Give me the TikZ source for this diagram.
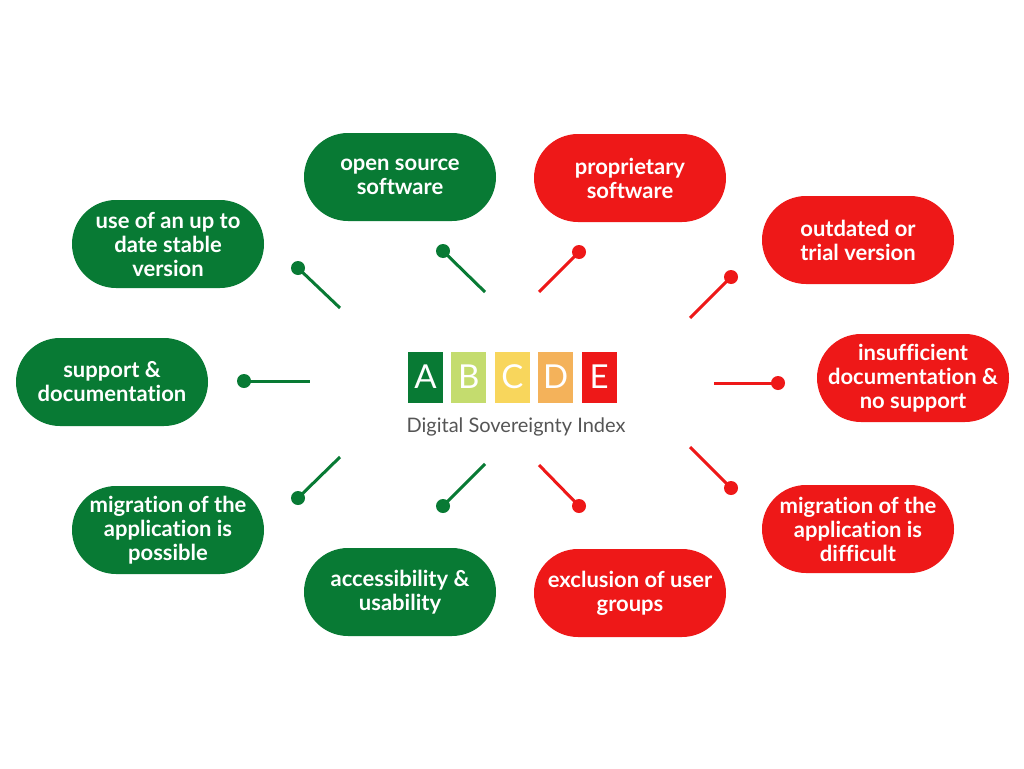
\documentclass[tikz,border=0pt]{standalone}
\usepackage{fontspec}
\setmainfont[Ligatures={NoCommon}]{Lato}
\usepackage{tikz}
\usetikzlibrary{positioning}
\definecolor{sovgreen}{RGB}{8,122,52}
\definecolor{sovred}{RGB}{238,24,24}
\definecolor{sovlime}{RGB}{196,220,110}
\definecolor{sovyellow}{RGB}{248,214,92}
\definecolor{sovorange}{RGB}{244,178,90}
\definecolor{sovgray}{RGB}{85,85,85}
\tikzstyle{pill} = [rectangle, rounded corners=44pt, minimum width=192pt,
    minimum height=88pt, text=white, align=center,
    font=\fontsize{22}{24}\selectfont\bfseries, inner sep=0pt]
\tikzstyle{goodpill} = [pill, fill=sovgreen]
\tikzstyle{badpill} = [pill, fill=sovred]
\tikzstyle{scorebox} = [rectangle, minimum width=35pt, minimum height=51pt,
    text=white, font=\fontsize{33}{33}\selectfont, inner sep=0pt]
\tikzstyle{gooddot} = [circle, fill=sovgreen, minimum size=14pt, inner sep=0pt]
\tikzstyle{baddot} = [circle, fill=sovred, minimum size=14pt, inner sep=0pt]
\tikzstyle{goodline} = [draw=sovgreen, line width=3pt]
\tikzstyle{badline} = [draw=sovred, line width=3pt]

\begin{document}
\begin{tikzpicture}[x=1pt,y=-1pt]
\useasboundingbox[fill=white] (0,0) rectangle (1024,768);

% logo
\node[scorebox, fill=sovgreen] (A) at (425.5,377) {A};
\node[scorebox, fill=sovlime, right=8pt of A] (B) {B};
\node[scorebox, fill=sovyellow, right=8pt of B] (C) {C};
\node[scorebox, fill=sovorange, right=8pt of C] (D) {D};
\node[scorebox, fill=sovred, right=8pt of D] (E) {E};
\node[text=sovgray, font=\fontsize{20}{20}\selectfont] (title) at (516,427) {Digital Sovereignty Index};

% green side
\node[goodpill] (open) at (400,177) {open source\\software};
\node[goodpill] (uptodate) at (168,244) {use of an up to\\date stable\\version};
\node[goodpill] (support) at (112,382) {support \&\\documentation};
\node[goodpill] (migpos) at (168,530) {migration of the\\application is\\possible};
\node[goodpill] (access) at (400,592) {accessibility \&\\usability};

% red side
\node[badpill] (prop) at (630,178) {proprietary\\software};
\node[badpill] (outdated) at (858,240) {outdated or\\trial version};
\node[badpill] (insuff) at (913,378) {insufficient\\documentation \&\\no support};
\node[badpill] (migdiff) at (858,529) {migration of the\\application is\\difficult};
\node[badpill] (exclusion) at (630,593) {exclusion of user\\groups};

% connectors
\node[gooddot] (d1) at (298,268) {};
\coordinate (e1) at (340,308);
\node[gooddot] (d2) at (443,251) {};
\coordinate (e2) at (485,292);
\node[gooddot] (d3) at (244,381) {};
\coordinate (e3) at (310,381);
\node[gooddot] (d4) at (298,498) {};
\coordinate (e4) at (340,457);
\node[gooddot] (d5) at (443,506) {};
\coordinate (e5) at (485,464);
\node[baddot] (d6) at (579,252) {};
\coordinate (e6) at (539,292);
\node[baddot] (d7) at (731,277) {};
\coordinate (e7) at (690,318);
\node[baddot] (d8) at (778,383) {};
\coordinate (e8) at (714,383);
\node[baddot] (d9) at (731,488) {};
\coordinate (e9) at (690,447);
\node[baddot] (d10) at (579,506) {};
\coordinate (e10) at (539,465);
\foreach \n in {1,...,5}
    \draw[goodline] (d\n.center) -- (e\n);
\foreach \n in {6,...,10}
    \draw[badline] (d\n.center) -- (e\n);
\end{tikzpicture}
\end{document}
